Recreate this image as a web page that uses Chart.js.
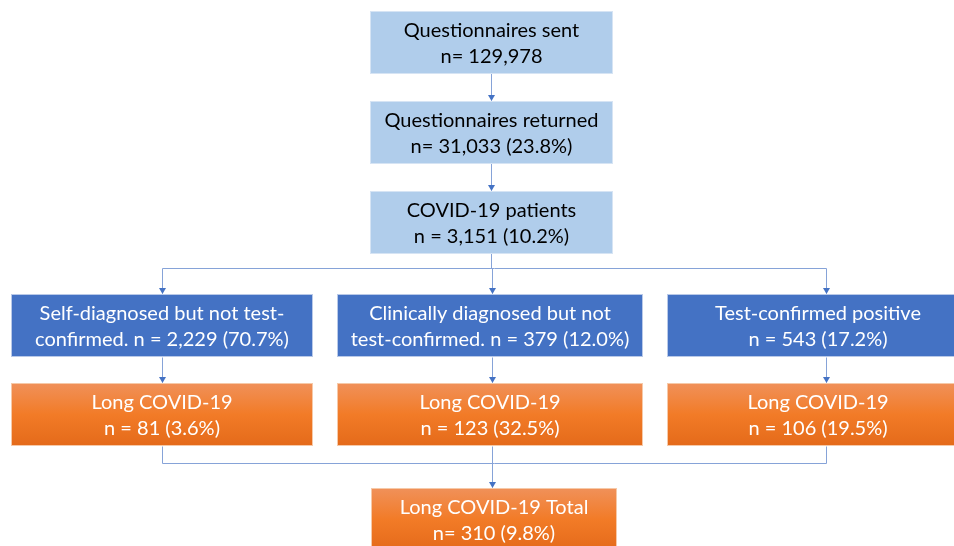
<!DOCTYPE html>
<html>
<head>
<meta charset="utf-8">
<script src="https://cdn.jsdelivr.net/npm/chart.js@4.4.0/dist/chart.umd.min.js"></script>
<style>
  html, body { margin: 0; padding: 0; background: #fff; }
  #wrap { width: 954px; height: 546px; position: relative; }
</style>
</head>
<body>
<div id="wrap"><canvas id="flow"></canvas></div>
<script>
// main funnel
const stageTitles = ['Questionnaires sent', 'Questionnaires returned', 'COVID-19 patients'];
const stageCounts = [129978, 31033, 3151];
const stagePcts = [null, 23.8, 10.2];

// diagnosis groups
const groupLine1 = ['Self-diagnosed but not test-', 'Clinically diagnosed but not', 'Test-confirmed positive'];
const groupLine2 = ['confirmed. ', 'test-confirmed. ', ''];
const groupCounts = [2229, 379, 543];
const groupPcts = [70.7, 12.0, 17.2];

// long covid per group + total
const longTitle = 'Long COVID-19';
const longCounts = [81, 123, 106];
const longPcts = [3.6, 32.5, 19.5];
const totalTitle = 'Long COVID-19 Total';
const totalCount = 310;
const totalPct = 9.8;

const fmt = n => n.toLocaleString('en-US');
const pct = p => p == null ? '' : ' (' + p.toFixed(1) + '%)';

// layout (in grid units of the hidden scales)
const colX = [162, 492, 826];      // connector columns
const boxX = [162, 490, 818];      // box centres
const boxW = [302, 306, 302];
const rowTop = [11, 101, 191, 294, 383, 488];
const boxH = 63;

function nodes() {
  const list = [];
  stageTitles.forEach((t, i) => {
    const eq = i < 2 ? 'n= ' : 'n = ';
    list.push({ cx: 491.5, w: 243, row: i, kind: 'light', lines: [t, eq + fmt(stageCounts[i]) + pct(stagePcts[i])] });
  });
  groupLine1.forEach((t, i) => {
    list.push({ cx: boxX[i], w: boxW[i], row: 3, kind: 'blue', lines: [t, groupLine2[i] + 'n = ' + fmt(groupCounts[i]) + pct(groupPcts[i])] });
    list.push({ cx: boxX[i], w: boxW[i], row: 4, kind: 'orange', lines: [longTitle, 'n = ' + fmt(longCounts[i]) + pct(longPcts[i])] });
  });
  list.push({ cx: 494, w: 246, row: 5, kind: 'orange', lines: [totalTitle, 'n= ' + totalCount + pct(totalPct)] });
  return list;
}

const flowPlugin = {
  id: 'flow',
  afterDraw(chart) {
    const ctx = chart.ctx;
    const xs = chart.scales.x, ys = chart.scales.y;
    const px = v => xs.getPixelForValue(v);
    const py = v => ys.getPixelForValue(v);

    ctx.save();
    // connectors
    const lineCol = '#86A3D8';
    const arrowCol = '#4472C4';
    function seg(x1, y1, x2, y2) {
      ctx.strokeStyle = lineCol; ctx.lineWidth = 1;
      ctx.beginPath();
      ctx.moveTo(Math.round(px(x1)) + 0.5, Math.round(py(y1)) + 0.5);
      ctx.lineTo(Math.round(px(x2)) + 0.5, Math.round(py(y2)) + 0.5);
      ctx.stroke();
    }
    function arrow(x, y) {
      const X = Math.round(px(x)) + 0.5, Y = py(y);
      ctx.fillStyle = arrowCol;
      ctx.beginPath();
      ctx.moveTo(X - 3.5, Y - 6);
      ctx.lineTo(X + 3.5, Y - 6);
      ctx.lineTo(X, Y);
      ctx.closePath();
      ctx.fill();
    }
    // funnel
    for (let i = 0; i < 2; i++) {
      seg(491, rowTop[i] + boxH - 1, 491, rowTop[i + 1] - 1);
      arrow(491, rowTop[i + 1]);
    }
    seg(491, rowTop[2] + boxH - 1, 491, 268);
    seg(colX[0], 268, colX[2], 268);
    colX.forEach(x => {
      seg(x, 268, x, rowTop[3] - 1);
      arrow(x, rowTop[3]);
      seg(x, rowTop[3] + boxH, x, rowTop[4] - 1);
      arrow(x, rowTop[4]);
    });
    seg(colX[0], rowTop[4] + boxH, colX[0], 463);
    seg(colX[2], rowTop[4] + boxH, colX[2], 463);
    seg(colX[0], 463, colX[2], 463);
    seg(colX[1], rowTop[4] + boxH, colX[1], rowTop[5] - 1);
    arrow(colX[1], rowTop[5]);

    // boxes
    nodes().forEach(n => {
      const x0 = px(n.cx - n.w / 2), x1 = px(n.cx + n.w / 2);
      const y0 = py(rowTop[n.row]), y1 = py(rowTop[n.row] + boxH);
      let fill, txt, edge;
      if (n.kind === 'light') { fill = '#B0CDEB'; txt = '#000'; edge = '#D6E4F4'; }
      else if (n.kind === 'blue') { fill = '#4472C4'; txt = '#fff'; edge = '#B9C9E8'; }
      else {
        const g = ctx.createLinearGradient(0, y0, 0, y1);
        g.addColorStop(0, '#F0915A');
        g.addColorStop(0.5, '#F27B27');
        g.addColorStop(1, '#E46A1A');
        fill = g; txt = '#fff'; edge = '#F6C9A8';
      }
      ctx.fillStyle = fill;
      ctx.fillRect(x0, y0, x1 - x0, y1 - y0);
      ctx.strokeStyle = edge; ctx.lineWidth = 1;
      ctx.strokeRect(Math.round(x0) + 0.5, Math.round(y0) + 0.5, Math.round(x1 - x0) - 1, Math.round(y1 - y0) - 1);

      ctx.fillStyle = txt;
      ctx.font = '20px Lato';
      ctx.textAlign = 'center';
      ctx.textBaseline = 'alphabetic';
      const cy = (y0 + y1) / 2;
      ctx.fillText(n.lines[0], px(n.cx), cy - 6);
      ctx.fillText(n.lines[1], px(n.cx), cy + 20);
    });
    ctx.restore();
  }
};

const allNodes = nodes();
new Chart(document.getElementById('flow'), {
  type: 'scatter',
  data: {
    datasets: [{
      data: allNodes.map(n => ({ x: n.cx, y: rowTop[n.row] + boxH / 2 })),
      pointRadius: 0
    }]
  },
  options: {
    responsive: true,
    maintainAspectRatio: false,
    animation: false,
    layout: { padding: 0 },
    plugins: { legend: { display: false }, tooltip: { enabled: false } },
    scales: {
      x: { type: 'linear', min: 0, max: 954, display: false },
      y: { type: 'linear', min: 0, max: 546, reverse: true, display: false }
    }
  },
  plugins: [flowPlugin]
});
</script>
</body>
</html>
